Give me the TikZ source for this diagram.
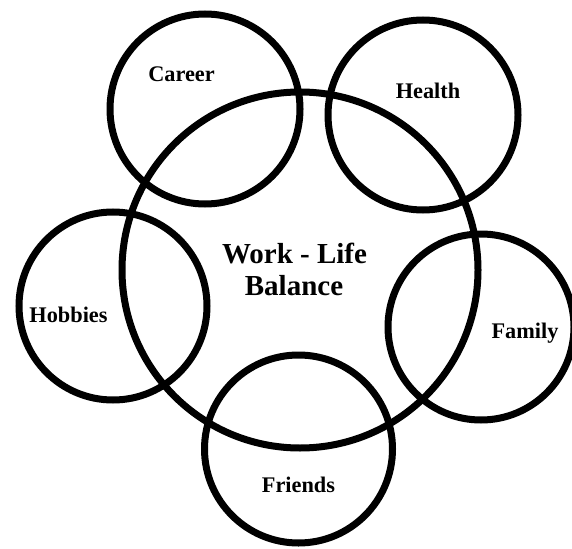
\documentclass[tikz,border=0pt]{standalone}
\usepackage{fontspec}
\setmainfont{Liberation Serif}
\begin{document}
\begin{tikzpicture}[x=1pt,y=-1pt,
  ring/.style={circle,draw=black,line width=7pt,inner sep=0pt,outer sep=0pt},
  lbl/.style={anchor=base,inner sep=0pt,font=\bfseries\fontsize{22.3}{26}\selectfont},
  bigl/.style={anchor=base,inner sep=0pt,font=\bfseries\fontsize{29}{32}\selectfont}]
\useasboundingbox (0,0) rectangle (572,548);
\node[ring,minimum size=356pt] (wlb) at (300,270) {};
\node[ring,minimum size=190pt] (career) at (205,109) {};
\node[ring,minimum size=190pt] (health) at (423,115) {};
\node[ring,minimum size=188pt] (hobbies) at (113,306) {};
\node[ring,minimum size=186pt] (family) at (481,327) {};
\node[ring,minimum size=188pt] (friends) at (298.5,449) {};
\node[lbl] (tcareer) at (181.5,82) {Career};
\node[lbl] (thealth) at (428,99) {Health};
\node[lbl] (thobbies) at (68.5,322) {Hobbies};
\node[lbl] (tfamily) at (525,338) {Family};
\node[lbl] (tfriends) at (298.5,492) {Friends};
\node[bigl] (twl) at (294.5,263) {Work - Life};
\node[bigl] (tbal) at (294,295) {Balance};
\end{tikzpicture}
\end{document}
